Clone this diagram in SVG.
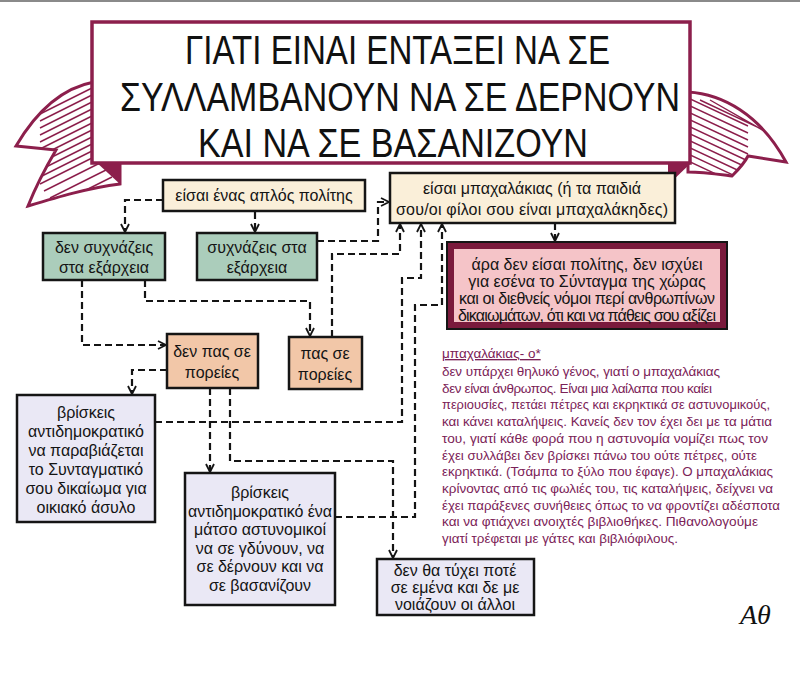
<svg xmlns="http://www.w3.org/2000/svg" width="800" height="676" viewBox="0 0 800 676">
<style>
.bx{stroke:#151515;stroke-width:2.5}
.beige{fill:#faefd9}.green{fill:#abcdbb}.peach{fill:#f2c7a8}.lav{fill:#eae8f5}
.t{font-family:"Liberation Sans","DejaVu Sans",sans-serif;font-size:16px;text-anchor:middle;fill:#141414}
.ti{font-family:"Liberation Sans","DejaVu Sans",sans-serif;fill:#111}
.conn{fill:none;stroke:#141414;stroke-width:2.2;stroke-dasharray:7 4}
.note{font-family:"Liberation Sans","DejaVu Sans",sans-serif;font-size:13.5px;fill:#7b2257}
.hatch{fill:none;stroke:#8c1f4c;stroke-width:1.4}
.ribbon{fill:#fff;stroke:#8c1f4c;stroke-width:3}
</style>
<defs>
<marker id="ah" viewBox="0 0 10 10" refX="9" refY="5" markerWidth="10" markerHeight="10" orient="auto" markerUnits="userSpaceOnUse">
<path d="M1,1 L9,5 L1,9" fill="none" stroke="#141414" stroke-width="1.8"/>
</marker>
<clipPath id="clL"><path d="M94,82 C62,88 36,112 16,146 L56,150 C46,167 36,186 28,206 C58,197 88,188 120,184 L120,162 L94,162 Z"/></clipPath>
<clipPath id="clR"><path d="M688,92 C722,94 760,114 786,162 L748,156 C744,164 738,170 732,176 C716,174 702,172 688,172 Z"/></clipPath>
</defs>
<rect width="800" height="676" fill="#fff"/>
<rect width="800" height="2" fill="#8a8a8a"/>

<g id="banner">
<path class="ribbon" d="M94,82 C62,88 36,112 16,146 L56,150 C46,167 36,186 28,206 C58,197 88,188 120,184 L120,162 L94,162 Z"/>
<g clip-path="url(#clL)"><path class="hatch" d="M96,86 L40,114 M96,93 L40,121 M96,100 L40,128 M96,107 L40,135 M96,114 L40,142 M96,121 L40,149 M96,128 L40,156 M96,135 L40,163 M96,142 L40,170 M96,149 L40,177 M96,156 L40,184 M100,163 L44,191 M106,170 L50,198 M112,177 L56,205"/></g>
<polygon points="96,162 121,162 121,185" fill="#8c1f4c"/>
<path class="ribbon" d="M688,92 C722,94 760,114 786,162 L748,156 C744,164 738,170 732,176 C716,174 702,172 688,172 Z"/>
<g clip-path="url(#clR)"><path class="hatch" d="M688,98 L748,126 M688,105 L748,133 M688,112 L748,140 M688,119 L748,147 M688,126 L748,154 M688,133 L748,161 M688,140 L748,168 M688,147 L748,175 M688,154 L748,182 M688,161 L748,189 M700,100 L770,133 M710,100 L780,140"/></g>
<polygon points="692,162 668,162 668,185" fill="#8c1f4c"/>
<rect x="92" y="22" width="598" height="141" fill="#fff" stroke="#8c1f4c" stroke-width="3.5"/>
<text class="ti" x="185" y="64" font-size="40" textLength="425" lengthAdjust="spacingAndGlyphs">ΓΙΑΤΙ ΕΙΝΑΙ ΕΝΤΑΞΕΙ ΝΑ ΣΕ</text>
<text class="ti" x="120" y="110.5" font-size="41" textLength="560" lengthAdjust="spacingAndGlyphs">ΣΥΛΛΑΜΒΑΝΟΥΝ ΝΑ ΣΕ ΔΕΡΝΟΥΝ</text>
<text class="ti" x="198" y="156.5" font-size="40" textLength="390" lengthAdjust="spacingAndGlyphs">ΚΑΙ ΝΑ ΣΕ ΒΑΣΑΝΙΖΟΥΝ</text>
</g>

<g id="connectors">
<path class="conn" d="M163,200 H125 V232" marker-end="url(#ah)"/>
<path class="conn" d="M255,212 V232" marker-end="url(#ah)"/>
<path class="conn" d="M317,241 H378 V202 H389" marker-end="url(#ah)"/>
<path class="conn" d="M82,280 V345 H166" marker-end="url(#ah)"/>
<path class="conn" d="M145,280 V301 H310 V336" marker-end="url(#ah)"/>
<path class="conn" d="M332,337 V254 H400 V224" marker-end="url(#ah)"/>
<path class="conn" d="M155,422 H402 V278 H421 V224" marker-end="url(#ah)"/>
<path class="conn" d="M335,517 H415 V305 H442 V224" marker-end="url(#ah)"/>
<path class="conn" d="M167,370 H132 V394" marker-end="url(#ah)"/>
<path class="conn" d="M210,388 V472" marker-end="url(#ah)"/>
<path class="conn" d="M230,388 V461 H393 V558" marker-end="url(#ah)"/>
<path class="conn" d="M555,223 V241" marker-end="url(#ah)"/>
</g>

<g id="n-aplos"><rect class="bx beige" x="163" y="180" width="202" height="31"/>
<text class="t" x="264" y="201">είσαι ένας απλός πολίτης</text></g>

<g id="n-den-sychnazeis"><rect class="bx green" x="43" y="233" width="122" height="47"/>
<text class="t" x="104" y="253">δεν συχνάζεις</text><text class="t" x="104" y="273">στα εξάρχεια</text></g>

<g id="n-sychnazeis"><rect class="bx green" x="197" y="233" width="120" height="47"/>
<text class="t" x="257" y="253">συχνάζεις στα</text><text class="t" x="257" y="273">εξάρχεια</text></g>

<g id="n-mpachalakias"><rect class="bx beige" x="390" y="173" width="285" height="50"/>
<text class="t" x="532" y="194">είσαι μπαχαλάκιας (ή τα παιδιά</text>
<text class="t" x="532" y="215" textLength="272">σου/οι φίλοι σου είναι μπαχαλάκηδες)</text></g>

<g id="n-ara"><rect x="447" y="242" width="280" height="87" fill="#7a1a3c" stroke="#151515" stroke-width="2"/>
<rect x="454" y="249" width="266" height="73" fill="#f5c4c8"/>
<text class="t" x="587" y="270" font-size="15">άρα δεν είσαι πολίτης, δεν ισχύει</text>
<text class="t" x="587" y="287" font-size="15">για εσένα το Σύνταγμα της χώρας</text>
<text class="t" x="587" y="304" font-size="15" textLength="256">και οι διεθνείς νόμοι περί ανθρωπίνων</text>
<text class="t" x="587" y="321" font-size="15" textLength="258">δικαιωμάτων, ότι και να πάθεις σου αξίζει</text></g>

<g id="n-den-pas"><rect class="bx peach" x="167" y="334" width="91" height="54"/>
<text class="t" x="212" y="357" font-size="17">δεν πας σε</text><text class="t" x="212" y="378" font-size="17">πορείες</text></g>

<g id="n-pas"><rect class="bx peach" x="289" y="337" width="73" height="52"/>
<text class="t" x="325" y="359" font-size="17">πας σε</text><text class="t" x="325" y="380" font-size="17">πορείες</text></g>

<g id="n-asylo"><rect class="bx lav" x="17" y="395" width="138" height="127"/>
<text class="t" x="86" y="418">βρίσκεις</text>
<text class="t" x="86" y="437">αντιδημοκρατικό</text>
<text class="t" x="86" y="456">να παραβιάζεται</text>
<text class="t" x="86" y="475">το Συνταγματικό</text>
<text class="t" x="86" y="494">σου δικαίωμα για</text>
<text class="t" x="86" y="513">οικιακό άσυλο</text></g>

<g id="n-vasanizoun"><rect class="bx lav" x="185" y="473" width="150" height="132"/>
<text class="t" x="260" y="498">βρίσκεις</text>
<text class="t" x="260" y="516.5" textLength="144">αντιδημοκρατικό ένα</text>
<text class="t" x="260" y="535">μάτσο αστυνομικοί</text>
<text class="t" x="260" y="553.5">να σε γδύνουν, να</text>
<text class="t" x="260" y="572">σε δέρνουν και να</text>
<text class="t" x="260" y="590.5">σε βασανίζουν</text></g>

<g id="n-den-tha"><rect class="bx lav" x="377" y="559" width="157" height="56"/>
<text class="t" x="455" y="576" font-size="15">δεν θα τύχει ποτέ</text>
<text class="t" x="455" y="593" font-size="15">σε εμένα και δε με</text>
<text class="t" x="455" y="610" font-size="15">νοιάζουν οι άλλοι</text></g>

<g id="definition">
<text class="note" x="442" y="358" font-size="14" text-decoration="underline">μπαχαλάκιας- ο*</text>
<text class="note" x="442" y="376" textLength="278">δεν υπάρχει θηλυκό γένος, γιατί ο μπαχαλάκιας</text>
<text class="note" x="442" y="392.7" textLength="270">δεν είναι άνθρωπος. Είναι μια λαίλαπα που καίει</text>
<text class="note" x="442" y="409.4" textLength="328" lengthAdjust="spacingAndGlyphs">περιουσίες, πετάει πέτρες και εκρηκτικά σε αστυνομικούς,</text>
<text class="note" x="442" y="426.1" textLength="330" lengthAdjust="spacingAndGlyphs">και κάνει καταλήψεις. Κανείς δεν τον έχει δει με τα μάτια</text>
<text class="note" x="442" y="442.8" textLength="326" lengthAdjust="spacingAndGlyphs">του, γιατί κάθε φορά που η αστυνομία νομίζει πως τον</text>
<text class="note" x="442" y="459.5" textLength="315" lengthAdjust="spacingAndGlyphs">έχει συλλάβει δεν βρίσκει πάνω του ούτε πέτρες, ούτε</text>
<text class="note" x="442" y="476.2" textLength="331" lengthAdjust="spacingAndGlyphs">εκρηκτικά. (Τσάμπα το ξύλο που έφαγε). Ο μπαχαλάκιας</text>
<text class="note" x="442" y="492.9" textLength="331" lengthAdjust="spacingAndGlyphs">κρίνοντας από τις φωλιές του, τις καταλήψεις, δείχνει να</text>
<text class="note" x="442" y="509.6" textLength="338" lengthAdjust="spacingAndGlyphs">έχει παράξενες συνήθειες όπως το να φροντίζει αδέσποτα</text>
<text class="note" x="442" y="526.3" textLength="316" lengthAdjust="spacingAndGlyphs">και να φτιάχνει ανοιχτές βιβλιοθήκες. Πιθανολογούμε</text>
<text class="note" x="442" y="543" textLength="236" lengthAdjust="spacingAndGlyphs">γιατί τρέφεται με γάτες και βιβλιόφιλους.</text>
</g>

<text x="740" y="624" font-family="Liberation Serif, serif" font-style="italic" font-size="28" fill="#111">Αθ</text>
</svg>
